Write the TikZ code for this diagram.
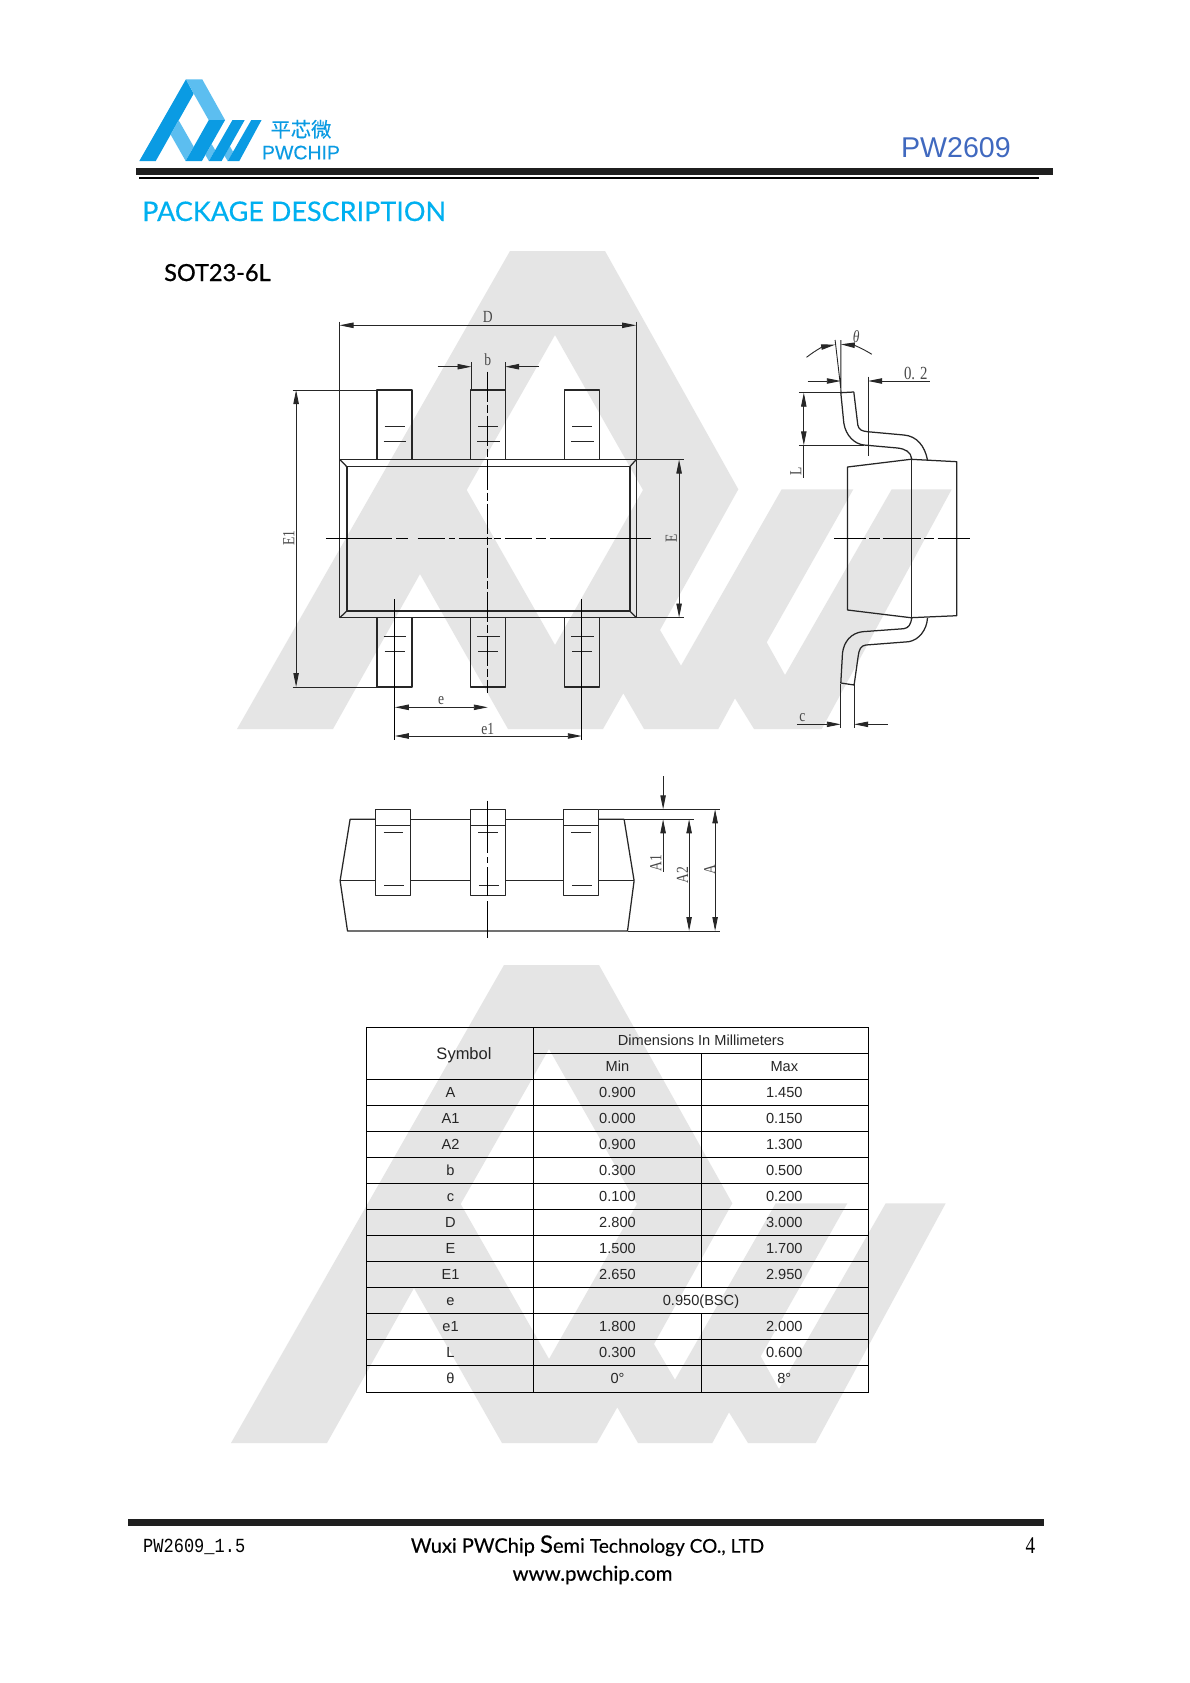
\documentclass[tikz,border=0pt]{standalone}
\usepackage{fontspec}
\usetikzlibrary{arrows.meta}
\setmainfont{Liberation Sans}
\newfontfamily\boldishfont[FakeBold=0.35]{Liberation Sans}
\newfontfamily\cjkfont[FakeBold=0.3]{Noto Sans CJK SC}
\newfontfamily\headfont[FakeBold=0.35]{Lato}
\newfontfamily\subfont[FakeBold=0.9]{Lato}
\newfontfamily\footfont[FakeBold=0.3]{Lato}
\newfontfamily\dimfont[FakeStretch=0.8]{Liberation Serif}
\newfontfamily\monofont[FakeStretch=0.85]{Liberation Mono}
\definecolor{wmgray}{HTML}{E5E5E5}
\definecolor{logodark}{HTML}{0A9BE3}
\definecolor{logolight}{HTML}{5CBEF0}
\definecolor{headblue}{HTML}{00B0F0}
\definecolor{pwblue}{HTML}{4069BF}
\definecolor{ink}{HTML}{262626}
\definecolor{dimc}{HTML}{4A4A4A}
\newcommand{\fs}[1]{\fontsize{#1}{#1}\selectfont}
\tikzset{
  x=1pt,y=-1pt,
  outline/.style={draw=ink,line width=1.25pt,line join=round},
  thinline/.style={draw=ink,line width=0.9pt},
  axisline/.style={draw=black,line width=0.9pt},
  dimarrow/.style={thinline,{Triangle[length=14pt,width=5.4pt]}-{Triangle[length=14pt,width=5.4pt]}},
  onearrow/.style={thinline,-{Triangle[length=14pt,width=5.4pt]}},
  dimlab/.style={font=\dimfont\fs{17},text=dimc,inner sep=0pt},
  cell/.style={font=\fs{14.6},text=ink,anchor=base,inner sep=0pt},
  tline/.style={draw=black,line width=0.95pt},
  wm/.style={fill=wmgray,even odd rule},
}
\newcommand{\wmshape}{(237,729)--(510,251)--(605,251)--(738.3,489.3)--(660,630)--(681,665.7)--(781.7,489.3)--(853.3,489.3)--(766.7,642.3)--(785,675)--(891.7,489.3)--(951.7,489.3)--(821.7,729)--(754,729)--(735,698.3)--(718.3,729)--(644,729)--(623.3,693.3)--(603,729)--(508,729)--(420,574)--(333,729)--cycle (555,335)--(643,490)--(555,645)--(466.7,490)--cycle}
\begin{document}
\begin{tikzpicture}
\fill[white] (0,0) rectangle (1190,1683);
\useasboundingbox (0,0) rectangle (1190,1683);
% watermarks
\fill[wm] \wmshape;
\begin{scope}[xshift=-6pt,yshift=-714pt]
\fill[wm] \wmshape;
\end{scope}
% logo
\begin{scope}[shift={(186,79.3)},x=0.171pt,y=-0.171pt,shift={(-510,-251)}]
\fill[logodark] (237,729)--(333,729)--(555,335)--(510,251)--cycle;
\fill[logolight] (510,251)--(605,251)--(738.3,489.3)--(643,490)--(555,335)--cycle;
\fill[logolight] (466.7,490)--(555,645)--(508,729)--(420,574)--cycle;
\fill[logolight] (660,630)--(681,665.7)--(644,729)--(623.3,693.3)--cycle;
\fill[logolight] (766.7,642.3)--(785,675)--(754,729)--(735,698.3)--cycle;
\fill[logodark] (643,490)--(738.3,489.3)--(603,729)--(508,729)--cycle;
\fill[logodark] (781.7,489.3)--(853.3,489.3)--(718.3,729)--(644,729)--cycle;
\fill[logodark] (891.7,489.3)--(951.7,489.3)--(821.7,729)--(754,729)--cycle;
\end{scope}
\node[anchor=base,inner sep=0pt,text=logodark,font=\cjkfont\fs{20.3}] (logocn) at (301,137) {平芯微};
\node[anchor=base,inner sep=0pt,text=logodark,font=\boldishfont\fs{19.5}] (logoen) at (301,159.3) {PWCHIP};
\node[anchor=base east,inner sep=0pt,text=pwblue,font=\fs{28.6}] (part) at (1011,157.7) {PW2609};
% header rules
\fill[black!88] (136,168.3) rectangle (1053,175);
\fill[black] (139,176.7) rectangle (1039,178.7);
\node[anchor=base west,inner sep=0pt,text=headblue,font=\headfont\fs{27}] (title) at (142,221) {PACKAGE DESCRIPTION};
\node[anchor=base west,inner sep=0pt,text=black,font=\subfont\fs{23.5}] (pkg) at (164,281) {SOT23-6L};
\begin{scope}[xshift=0.8pt]
% ---------- top view
\foreach \x in {376.3,469.7,563.7}{
  \draw[outline] (\x,459.5)--(\x,390)--(\x+35,390)--(\x+35,459.5);
  \draw[outline] (\x,617.7)--(\x,687)--(\x+35,687)--(\x+35,617.7);
  \draw[thinline] (\x+7.5,426)--(\x+27.5,426) (\x+6.5,441)--(\x+29,441);
  \draw[thinline] (\x+6.5,636)--(\x+29,636) (\x+7.5,651)--(\x+27.5,651);
}
\draw[outline] (339,459.5) rectangle (635.5,617.7);
\draw[outline,line width=1.5pt] (346,466.7) rectangle (629,611);
\draw[outline] (339,459.5)--(346,466.7) (635.5,459.5)--(629,466.7) (339,617.7)--(346,611) (635.5,617.7)--(629,611);
\draw[axisline,dash pattern=on 30pt off 3pt on 8pt off 3pt] (487,371.7)--(487,693);
\draw[axisline] (325,538.3)--(390.7,538.3) (395.3,538.3)--(406.7,538.3) (416.7,538.3)--(444,538.3) (448,538.3)--(454,538.3) (458,538.3)--(490.7,538.3) (493.3,538.3)--(500,538.3) (504,538.3)--(530.7,538.3) (534.7,538.3)--(545.3,538.3) (549.3,538.3)--(650,538.3);
\draw[axisline] (394,599)--(394,740);
\draw[axisline] (581,599)--(581,740);
% D
\draw[thinline] (338.7,321.7)--(338.7,459.5) (635.3,321.7)--(635.3,459.5);
\draw[dimarrow] (338.7,325.3)--(635.3,325.3);
\node[dimlab] (lD) at (487,317) {D};
% b
\draw[thinline] (470.7,362)--(470.7,390) (504.3,362)--(504.3,390);
\draw[onearrow] (436.7,366.7)--(470.7,366.7);
\draw[onearrow] (538.3,366.7)--(504.3,366.7);
\node[dimlab] (lb) at (487,360) {b};
% E1
\draw[thinline] (291.7,390)--(376.3,390) (291.7,687)--(376.3,687);
\draw[dimarrow] (295.3,390)--(295.3,687);
\node[dimlab,rotate=90] (lE1) at (288,538.3) {E1};
% E
\draw[thinline] (635.5,459.5)--(682.7,459.5) (635.5,617.5)--(682.7,617.5);
\draw[dimarrow] (678.3,459.5)--(678.3,617.5);
\node[dimlab,rotate=90] (lE) at (670.5,538.3) {E};
% e, e1
\draw[dimarrow] (394,707.3)--(487,707.3);
\node[dimlab] (le) at (440.3,701) {e};
\draw[dimarrow] (394,736)--(581,736);
\node[dimlab] (le1) at (487,729) {e1};
% ---------- side view
\draw[outline] (846.7,467)--(910,459.3)--(956,461.7)--(956,615.7)--(910,617.7)--(846.7,610)--cycle;
\draw[outline] (911,459.3)--(911,617.7);
\draw[outline] (840,392.7)--(853,392)--(857,425) .. controls (858,430) and (861,431) .. (866.7,431.7)--(903,435) .. controls (916,436) and (924,446) .. (926.7,460);
\draw[outline] (840,392.7)--(843,423) .. controls (845,436) and (854,444) .. (863,445)--(896.7,448) .. controls (905,449) and (910,452) .. (911,459);
\draw[outline] (911,618) .. controls (910,624) and (908,628) .. (903,628.7)--(861.7,631.7) .. controls (850,633) and (843,642) .. (841.7,653)--(840,683)--(853.3,685)--(857.3,656.7) .. controls (858,650) and (860,645.5) .. (865,645)--(908,641.7) .. controls (918,640) and (926,630) .. (926.7,618);
\draw[axisline] (833.3,538.3)--(865,538.3) (868.3,538.3)--(879.3,538.3) (881.7,538.3)--(920,538.3) (922.7,538.3)--(933.3,538.3) (936.7,538.3)--(969,538.3);
% theta
\draw[thinline] (834.3,340)--(840.5,393) (840,340)--(840,393);
\draw[onearrow] (805.7,357.3) to[bend left=14] (834.3,344.7);
\draw[onearrow] (871,354.3) to[bend right=14] (840,344.3);
\node[dimlab,font=\dimfont\itshape\fs{17}] (ltheta) at (855.5,337) {θ};
% 0.2
\draw[onearrow] (806.7,381)--(840,381);
\draw[thinline] (867.3,376.7)--(867.3,456);
\draw[onearrow] (929,381)--(867.3,381);
\node[dimlab,font=\dimfont\fs{18.5}] (l02) at (915,373) {0. 2};
% L
\draw[thinline] (798,392.7)--(840,392.7) (798,445.3)--(863,445.3);
\draw[dimarrow] (803,392.7)--(803,445.3);
\draw[thinline] (803,445.3)--(803,478);
\node[dimlab,rotate=90] (lL) at (795,471.7) {L};
% c
\draw[thinline] (840,684)--(840,728) (853.3,685)--(853.3,728);
\draw[onearrow] (796,724.3)--(840,724.3);
\draw[onearrow] (887,724.3)--(853.3,724.3);
\node[dimlab] (lc) at (801.7,718) {c};
% ---------- bottom view
\draw[outline] (375,819.3)--(349.3,819.3)--(339.3,880.7)--(346.7,931)--(626.7,931)--(633.3,880.7)--(623.3,819.3)--(597.7,819.3);
\draw[outline] (410,819.3)--(469.7,819.3) (505,819.3)--(562.7,819.3);
\draw[outline] (339.3,880.7)--(375,880.7) (410,880.7)--(469.7,880.7) (505,880.7)--(562.7,880.7) (597.7,880.7)--(633.3,880.7);
\foreach \x in {375,469.7,562.7}{
  \draw[outline] (\x,809.3) rectangle (\x+35,895.3);
  \draw[outline] (\x,825.3)--(\x+35,825.3);
  \draw[thinline] (\x+7.7,832)--(\x+27,832) (\x+8.3,885.7)--(\x+28.3,885.7);
}
\draw[axisline] (486.7,800.7)--(486.7,853) (486.7,857)--(486.7,863) (486.7,867)--(486.7,895.5) (486.7,901)--(486.7,938.3);
\draw[thinline] (597.7,809.3)--(719.3,809.3) (623.3,819.3)--(692.7,819.3) (626.7,931)--(719.3,931);
\draw[onearrow] (662.3,776)--(662.3,809.3);
\draw[onearrow] (662.3,871.7)--(662.3,819.3);
\draw[dimarrow] (688.3,819.3)--(688.3,931);
\draw[dimarrow] (714.3,809.3)--(714.3,931);
\node[dimlab,rotate=90] (lA1) at (655,862.7) {A1};
\node[dimlab,rotate=90] (lA2) at (681.7,875) {A2};
\node[dimlab,rotate=90] (lA) at (709,870) {A};
\end{scope}
% ---------- table
\draw[tline] (366.4,1027) rectangle (868,1392);
\draw[tline] (533.8,1027)--(533.8,1392);
\draw[tline] (533.8,1053)--(868,1053);
\foreach \r in {2,...,13}{
  \draw[tline] (366.4,1027+26.07*\r)--(868,1027+26.07*\r);
}
\draw[tline] (701,1053)--(701,1027+26.07*10);
\draw[tline] (701,1027+26.07*11)--(701,1392);
\node[cell,font=\fs{16.5}] (tsym) at (464,1059.5) {Symbol};
\node[cell] (tdim) at (701,1045.5) {Dimensions In Millimeters};
\node[cell] (tmin) at (617.5,1071.5) {Min};
\node[cell] (tmax) at (784.3,1071.5) {Max};
\foreach \r/\s/\a/\b in {2/A/0.900/1.450,3/A1/0.000/0.150,4/A2/0.900/1.300,5/b/0.300/0.500,6/c/0.100/0.200,7/D/2.800/3.000,8/E/1.500/1.700,9/E1/2.650/2.950,11/e1/1.800/2.000,12/L/0.300/0.600,13/θ/0°/8°}{
  \node[cell] (s\r) at (450.5,1045.5+26.01*\r) {\s};
  \node[cell] (a\r) at (617.5,1045.5+26.01*\r) {\a};
  \node[cell] (b\r) at (784.3,1045.5+26.01*\r) {\b};
}
\node[cell] (s10) at (450.5,1305.6) {e};
\node[cell] (a10) at (701,1305.6) {0.950(BSC)};
% footer
\fill[black!88] (128,1519.3) rectangle (1044,1526);
\node[anchor=base west,inner sep=0pt,text=black,font=\monofont\fs{20}] (fver) at (143,1552) {PW2609\_1.5};
\node[anchor=base,inner sep=0pt,text=black,font=\dimfont\fs{24}] (fpage) at (1030.5,1553) {4};
\node[anchor=base,inner sep=0pt,text=black,font=\footfont\fs{20}] (fco) at (587.5,1552.7) {Wuxi PWChip {\fs{24}S}emi {\fs{19}Technology CO., LTD}};
\node[anchor=base,inner sep=0pt,text=black,font=\footfont\fs{20.4}] (fweb) at (592.5,1580.7) {www.pwchip.com};
\end{tikzpicture}
\end{document}
